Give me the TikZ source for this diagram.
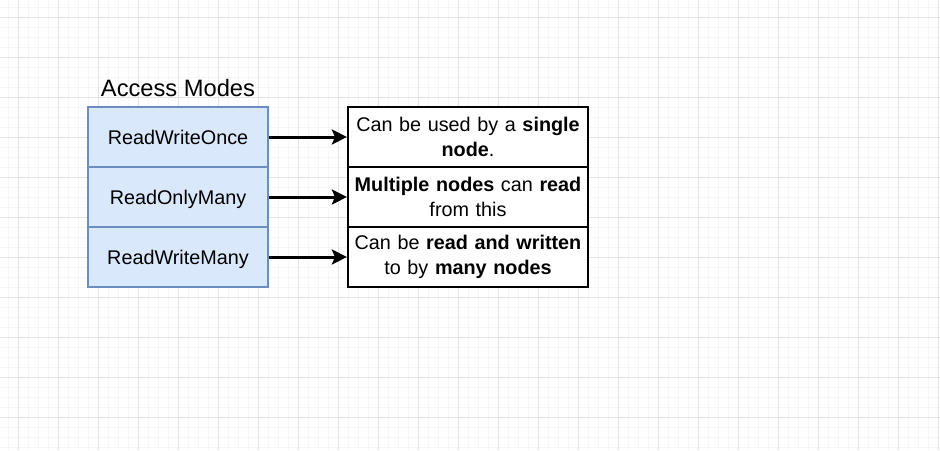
\documentclass[tikz,border=0pt]{standalone}
\usepackage{fontspec}
\setmainfont{Liberation Sans}
\usetikzlibrary{arrows.meta}
\definecolor{modefill}{HTML}{DAE8FC}
\definecolor{modeborder}{HTML}{6C8EBF}
\definecolor{gridminor}{HTML}{F6F6F6}
\definecolor{gridmajor}{HTML}{E3E3E3}
\begin{document}
\begin{tikzpicture}[x=1pt,y=-1pt,
  bodyfont/.style={font=\fontsize{19.8}{24.4}\selectfont},
  modebox/.style={draw=modeborder, fill=modefill, line width=2pt, minimum width=180pt, minimum height=60pt, inner sep=0pt, text height=16pt, text depth=0.6pt, bodyfont},
  descbox/.style={draw=black, fill=white, line width=2.2pt, minimum width=240pt, minimum height=60pt, text width=234pt, align=center, inner sep=0pt, bodyfont},
  conn/.style={line width=3pt, -{Stealth[length=15pt, width=15pt, inset=3pt]}},
  titletext/.style={font=\fontsize{23.7}{28}\selectfont, inner sep=0pt}
]
\useasboundingbox (0,0) rectangle (940,450);
\fill[white] (0,0) rectangle (940,450);
% grid
\foreach \x in {8,18,...,938} \draw[gridminor, line width=1pt] (\x,0) -- (\x,450);
\foreach \y in {7,17,...,447} \draw[gridminor, line width=1pt] (0,\y) -- (940,\y);
\foreach \x in {18,58,...,938} \draw[gridmajor, line width=1pt] (\x,0) -- (\x,450);
\foreach \y in {17,57,...,437} \draw[gridmajor, line width=1pt] (0,\y) -- (940,\y);

\node[titletext] (title) at (178,88) {Access Modes};

\node[modebox] (rwo) at (178,137) {ReadWriteOnce};
\node[modebox] (rom) at (178,197) {ReadOnlyMany};
\node[modebox] (rwm) at (178,257) {ReadWriteMany};

\node[descbox] (d1) at (468,137) {Can be used by a \textbf{single}\\\textbf{node}.};
\node[descbox] (d2) at (468,197) {\textbf{Multiple nodes} can \textbf{read}\\from this};
\node[descbox] (d3) at (468,257) {Can be \textbf{read and written}\\to by \textbf{many nodes}};

\draw[conn] (rwo.east) -- (d1.west);
\draw[conn] (rom.east) -- (d2.west);
\draw[conn] (rwm.east) -- (d3.west);
\end{tikzpicture}
\end{document}
